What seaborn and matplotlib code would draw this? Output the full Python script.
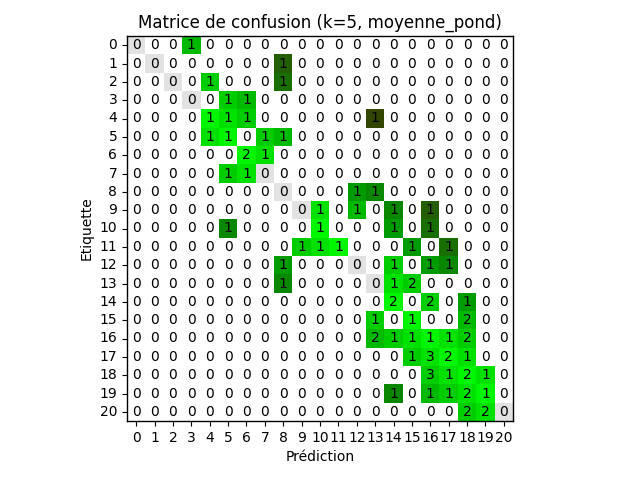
import numpy as np
import matplotlib
matplotlib.use('Agg')
import matplotlib.pyplot as plt
from matplotlib.colors import ListedColormap
import seaborn as sns

# class labels (0..20)
classes = list(range(21))

# non-zero cells of the confusion matrix: true label, predicted label, count
true_lbl = [0, 1, 2, 2, 3, 3, 4, 4, 4, 4,
            5, 5, 5, 5, 6, 6, 7, 7, 8, 8,
            9, 9, 9, 9, 10, 10, 10, 10, 11, 11,
            11, 11, 11, 12, 12, 12, 12, 13, 13, 13,
            14, 14, 14, 15, 15, 15, 16, 16, 16, 16,
            16, 16, 17, 17, 17, 17, 18, 18, 18, 18,
            19, 19, 19, 19, 19, 20, 20]
pred_lbl = [3, 8, 4, 8, 5, 6, 4, 5, 6, 13,
            4, 5, 7, 8, 6, 7, 5, 6, 12, 13,
            10, 12, 14, 16, 5, 10, 14, 16, 9, 10,
            11, 15, 17, 8, 14, 16, 17, 8, 14, 15,
            14, 16, 18, 13, 15, 18, 13, 14, 15, 16,
            17, 18, 15, 16, 17, 18, 16, 17, 18, 19,
            14, 16, 17, 18, 19, 18, 19]
counts = [1, 1, 1, 1, 1, 1, 1, 1, 1, 1,
          1, 1, 1, 1, 2, 1, 1, 1, 1, 1,
          1, 1, 1, 1, 1, 1, 1, 1, 1, 1,
          1, 1, 1, 1, 1, 1, 1, 1, 1, 2,
          2, 2, 1, 1, 1, 2, 2, 1, 1, 1,
          1, 2, 1, 3, 2, 1, 3, 1, 2, 1,
          1, 1, 1, 2, 1, 2, 2]

n = len(classes)
cm = np.zeros((n, n), dtype=int)
for t, p, c in zip(true_lbl, pred_lbl, counts):
    cm[t, p] = c

# colour code: 0 = white, 1 = grey (empty diagonal), 2 + d = error distance d
dist_colors = ['#00f500', '#00e100', '#00cd00', '#00b900', '#009b00',
               '#0a8700', '#196e00', '#235f00', '#2d5000', '#324600']
ii, jj = np.indices(cm.shape)
dist = np.clip(np.abs(ii - jj), 0, len(dist_colors) - 1)
code = np.where(cm > 0, 2 + dist, 0)
code[(cm == 0) & (ii == jj)] = 1

palette = ['white', '#e2e2e2'] + dist_colors
cmap = ListedColormap(palette)

fig = plt.figure(figsize=(6.4, 4.8), dpi=100)
ax = fig.add_axes([127 / 640, 59 / 480, 386 / 640, 385 / 480])
sns.heatmap(code, cmap=cmap, vmin=-0.5, vmax=len(palette) - 0.5,
            annot=cm, fmt='d', cbar=False,
            annot_kws={'color': 'black', 'fontsize': 10},
            xticklabels=classes, yticklabels=classes, ax=ax)

for s in ax.spines.values():
    s.set_visible(True)
    s.set_color('black')
    s.set_linewidth(1.0)
ax.tick_params(axis='x', rotation=0)
ax.tick_params(axis='y', rotation=0)

ax.set_title('Matrice de confusion (k=5, moyenne_pond)', fontsize=12)
ax.set_xlabel('Prédiction')
ax.set_ylabel('Etiquette')

fig.savefig('out.png', dpi=100)
